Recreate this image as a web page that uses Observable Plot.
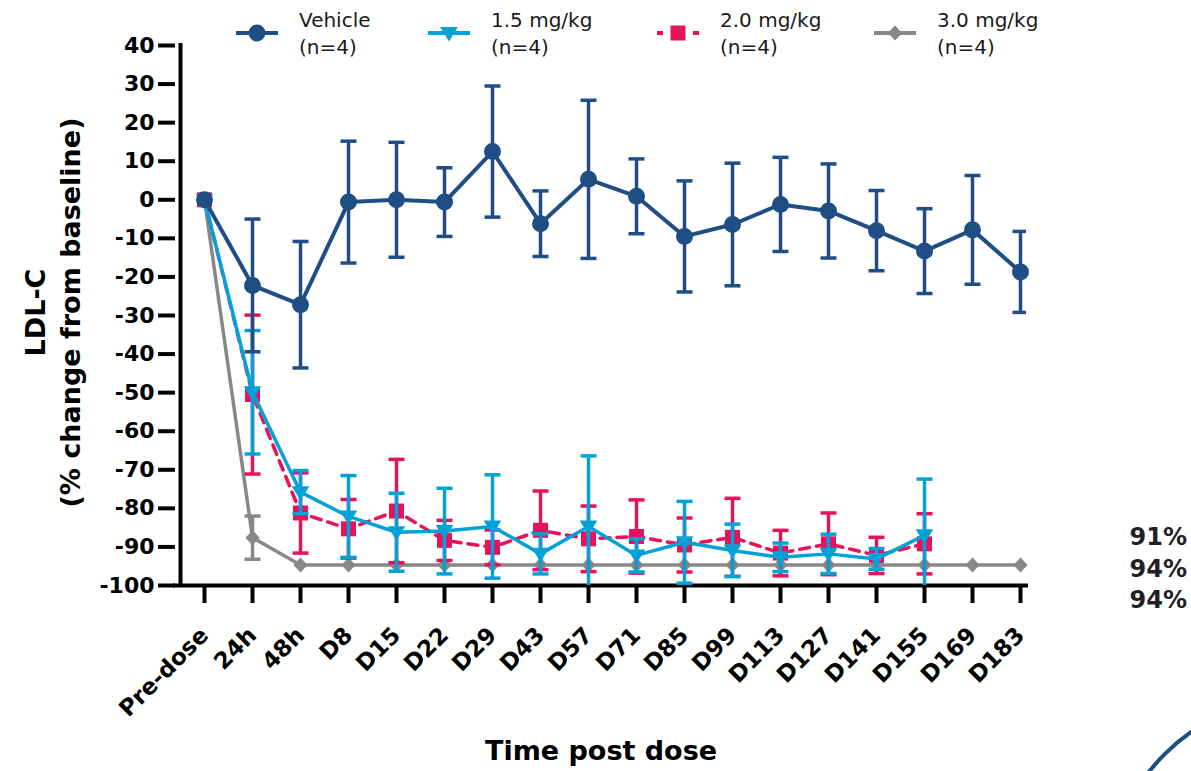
<!DOCTYPE html>
<html><head><meta charset="utf-8">
<script src="https://cdn.jsdelivr.net/npm/d3@7"></script>
<script src="https://cdn.jsdelivr.net/npm/@observablehq/plot@0.6"></script>
<style>
body{margin:0;background:#fff;}
#wrap{position:relative;width:1191px;height:771px;overflow:hidden;font-family:"DejaVu Sans",sans-serif;background:#fff;}
.leg{position:absolute;top:7px;font-size:20px;line-height:27px;color:#1a1a1a;white-space:nowrap;}
.legsym{position:absolute;top:23px;}
#pct{position:absolute;right:4px;top:522px;font-size:24px;line-height:31.5px;font-weight:bold;color:#1f1f26;text-align:right;}
#arc{position:absolute;left:0;top:0;pointer-events:none;}
</style></head><body><div id="wrap"></div><script>
// ---- data ----
const cats = ["Pre-dose","24h","48h","D8","D15","D22","D29","D43","D57","D71","D85","D99","D113","D127","D141","D155","D169","D183"];
const yTicks = [40,30,20,10,0,-10,-20,-30,-40,-50,-60,-70,-80,-90,-100];

const vehicleMean = [0,-22.2,-27.2,-0.6,0,-0.6,12.5,-6.2,5.3,0.9,-9.5,-6.4,-1.2,-2.9,-8.0,-13.3,-7.8,-18.7];
const vehicleSD   = [0,17.2,16.4,15.8,14.9,8.9,17.0,8.5,20.5,9.7,14.4,15.9,12.2,12.2,10.4,11.0,14.1,10.5];

const dose15Mean = [0,-49.9,-75.8,-82.1,-86.2,-85.9,-84.7,-91.8,-84.7,-92.2,-88.8,-90.9,-92.7,-91.8,-93.1,-87.0];
const dose15SD   = [0,16.0,5.6,10.6,10.1,11.1,13.4,5.2,18.3,4.3,10.6,6.8,3.7,5.1,2.7,14.6];

const dose20Mean = [0,-50.5,-81.2,-85.3,-80.7,-88.3,-90.1,-85.7,-87.9,-87.3,-89.5,-87.5,-91.6,-89.2,-92.2,-89.2];
const dose20SD   = [0,20.6,10.4,7.6,13.4,5.2,4.5,10.2,8.5,9.5,7.0,10.1,5.9,8.0,4.7,7.8];

const dose30Mean = [0,-87.6,-94.7,-94.7,-94.7,-94.7,-94.7,-94.7,-94.7,-94.7,-94.7,-94.7,-94.7,-94.7,-94.7,-94.7,-94.7,-94.7];
const dose30SD   = [0,5.6,0,0,0,0,0,0,0,0,0,0,0,0,0,0,0,0];

const seriesNames = ["Vehicle","1.5 mg/kg","2.0 mg/kg","3.0 mg/kg"];
const seriesN = ["(n=4)","(n=4)","(n=4)","(n=4)"];
const pctLabels = ["91%","94%","94%"];

// ---- symbols ----
const symTriDown = {draw(ctx, size){const r=Math.sqrt(size/Math.PI);ctx.moveTo(-r*1.1,-r*0.75);ctx.lineTo(r*1.1,-r*0.75);ctx.lineTo(0,r*1.05);ctx.closePath();}};
const symSquare = {draw(ctx, size){const r=Math.sqrt(size/Math.PI);ctx.rect(-r,-r,2*r,2*r);}};
const symDiamond = {draw(ctx, size){const r=Math.sqrt(size/Math.PI);ctx.moveTo(0,-r);ctx.lineTo(r*0.95,0);ctx.lineTo(0,r);ctx.lineTo(-r*0.95,0);ctx.closePath();}};
const symCap = {draw(ctx, size){const r=Math.sqrt(size/Math.PI);ctx.moveTo(-r,0);ctx.lineTo(r,0);}};

const series = [
  {name: seriesNames[0], n: seriesN[0], mean: vehicleMean, sd: vehicleSD, color:"#1f4e84", symbol: d3.symbolCircle, r:8.5, width:4, dash:null, legendDash:null},
  {name: seriesNames[1], n: seriesN[1], mean: dose15Mean, sd: dose15SD, color:"#03a2d6", symbol: symTriDown, r:8, width:3.5, dash:null, legendDash:null},
  {name: seriesNames[2], n: seriesN[2], mean: dose20Mean, sd: dose20SD, color:"#e8125c", symbol: symSquare, r:7.5, width:3.5, dash:"10,7", legendDash:"6,30"},
  {name: seriesNames[3], n: seriesN[3], mean: dose30Mean, sd: dose30SD, color:"#888888", symbol: symDiamond, r:7.5, width:3.5, dash:null, legendDash:null}
];

function rowsOf(s){
  return s.mean.map((m,i)=>({x:cats[i], y:m, lo:m - s.sd[i], hi:m + s.sd[i], sd:s.sd[i]}));
}

const marks = [];
// draw order: gray, pink, cyan, vehicle
[3,2,1,0].forEach(k=>{
  const s = series[k];
  const rows = rowsOf(s);
  const err = rows.filter(d=>d.sd>0);
  marks.push(Plot.ruleX(err,{x:"x",y1:"lo",y2:"hi",stroke:s.color,strokeWidth:3.5,clip:true}));
  marks.push(Plot.dot(err,{x:"x",y:"lo",symbol:symCap,r:8,stroke:s.color,fill:"none",strokeWidth:3.5,clip:true}));
  marks.push(Plot.dot(err,{x:"x",y:"hi",symbol:symCap,r:8,stroke:s.color,fill:"none",strokeWidth:3.5,clip:true}));
  marks.push(Plot.line(rows,{x:"x",y:"y",stroke:s.color,strokeWidth:s.width,strokeDasharray:s.dash,strokeLinejoin:"round"}));
  marks.push(Plot.dot(rows,{x:"x",y:"y",symbol:s.symbol,r:s.r,fill:s.color,stroke:"none"}));
});

const INSET_LEFT = 24;
const chart = Plot.plot({
  width: 1191,
  height: 771,
  marginLeft: 175,
  marginRight: 165,
  marginTop: 45,
  marginBottom: 186,
  style: {fontFamily:"DejaVu Sans, sans-serif", color:"#000", background:"#fff", overflow:"visible"},
  x: {type:"point", domain: cats, padding:0, insetLeft: INSET_LEFT, insetRight: 2},
  y: {domain:[-100,40]},
  marks: [
    Plot.axisY({anchor:"left", ticks: yTicks, tickSize:17, tickPadding:4, tickFormat:d=>String(d), fontSize:22, fontWeight:"bold", strokeWidth:4, label:null}),
    Plot.axisX({anchor:"bottom", tickSize:18, tickPadding:28, tickRotate:-45, fontSize:23, fontWeight:"bold", strokeWidth:4, label:null}),
    Plot.ruleX([cats[0]], {y1:-100, y2:40, dx:-INSET_LEFT, stroke:"#000", strokeWidth:4, strokeLinecap:"square"}),
    Plot.ruleY([-100], {stroke:"#000", strokeWidth:4, strokeLinecap:"square"}),
    ...marks,
    Plot.text(["LDL-C\n(% change from baseline)"], {frameAnchor:"left", textAnchor:"middle", rotate:-90, dx:-124, dy:-3, lineHeight:1.3, fontSize:27, fontWeight:"bold", fill:"#000"}),
    Plot.text(["Time post dose"], {frameAnchor:"bottom", dy:174, fontSize:27, fontWeight:"bold", fill:"#000"})
  ]
});

const wrap = document.getElementById("wrap");
wrap.appendChild(chart);

// ---- legend ----
const legendLeft = [236, 428, 657, 874];
series.forEach((s,i)=>{
  const svg = d3.create("svg").attr("class","legsym").attr("width",42).attr("height",20)
    .style("left", legendLeft[i]+"px").style("overflow","visible");
  svg.append("line").attr("x1",0).attr("x2",42).attr("y1",10).attr("y2",10)
    .attr("stroke",s.color).attr("stroke-width",4).attr("stroke-dasharray",s.legendDash);
  const p = d3.path(); s.symbol.draw(p, Math.PI*s.r*s.r);
  svg.append("path").attr("transform","translate(21,10)").attr("d",p.toString()).attr("fill",s.color);
  wrap.appendChild(svg.node());
  const div = document.createElement("div");
  div.className = "leg";
  div.style.left = (legendLeft[i]+63)+"px";
  div.innerHTML = s.name + "<br>" + s.n;
  wrap.appendChild(div);
});

// ---- right annotations ----
const pct = document.createElement("div");
pct.id = "pct";
pct.innerHTML = pctLabels.join("<br>");
wrap.appendChild(pct);

// ---- decorative arc (bottom right) ----
const arc = d3.create("svg").attr("id","arc").attr("width",1191).attr("height",771);
arc.append("circle").attr("cx",1308).attr("cy",898).attr("r",203).attr("fill","none").attr("stroke","#1f4e84").attr("stroke-width",4);
wrap.appendChild(arc.node());
</script></body></html>
